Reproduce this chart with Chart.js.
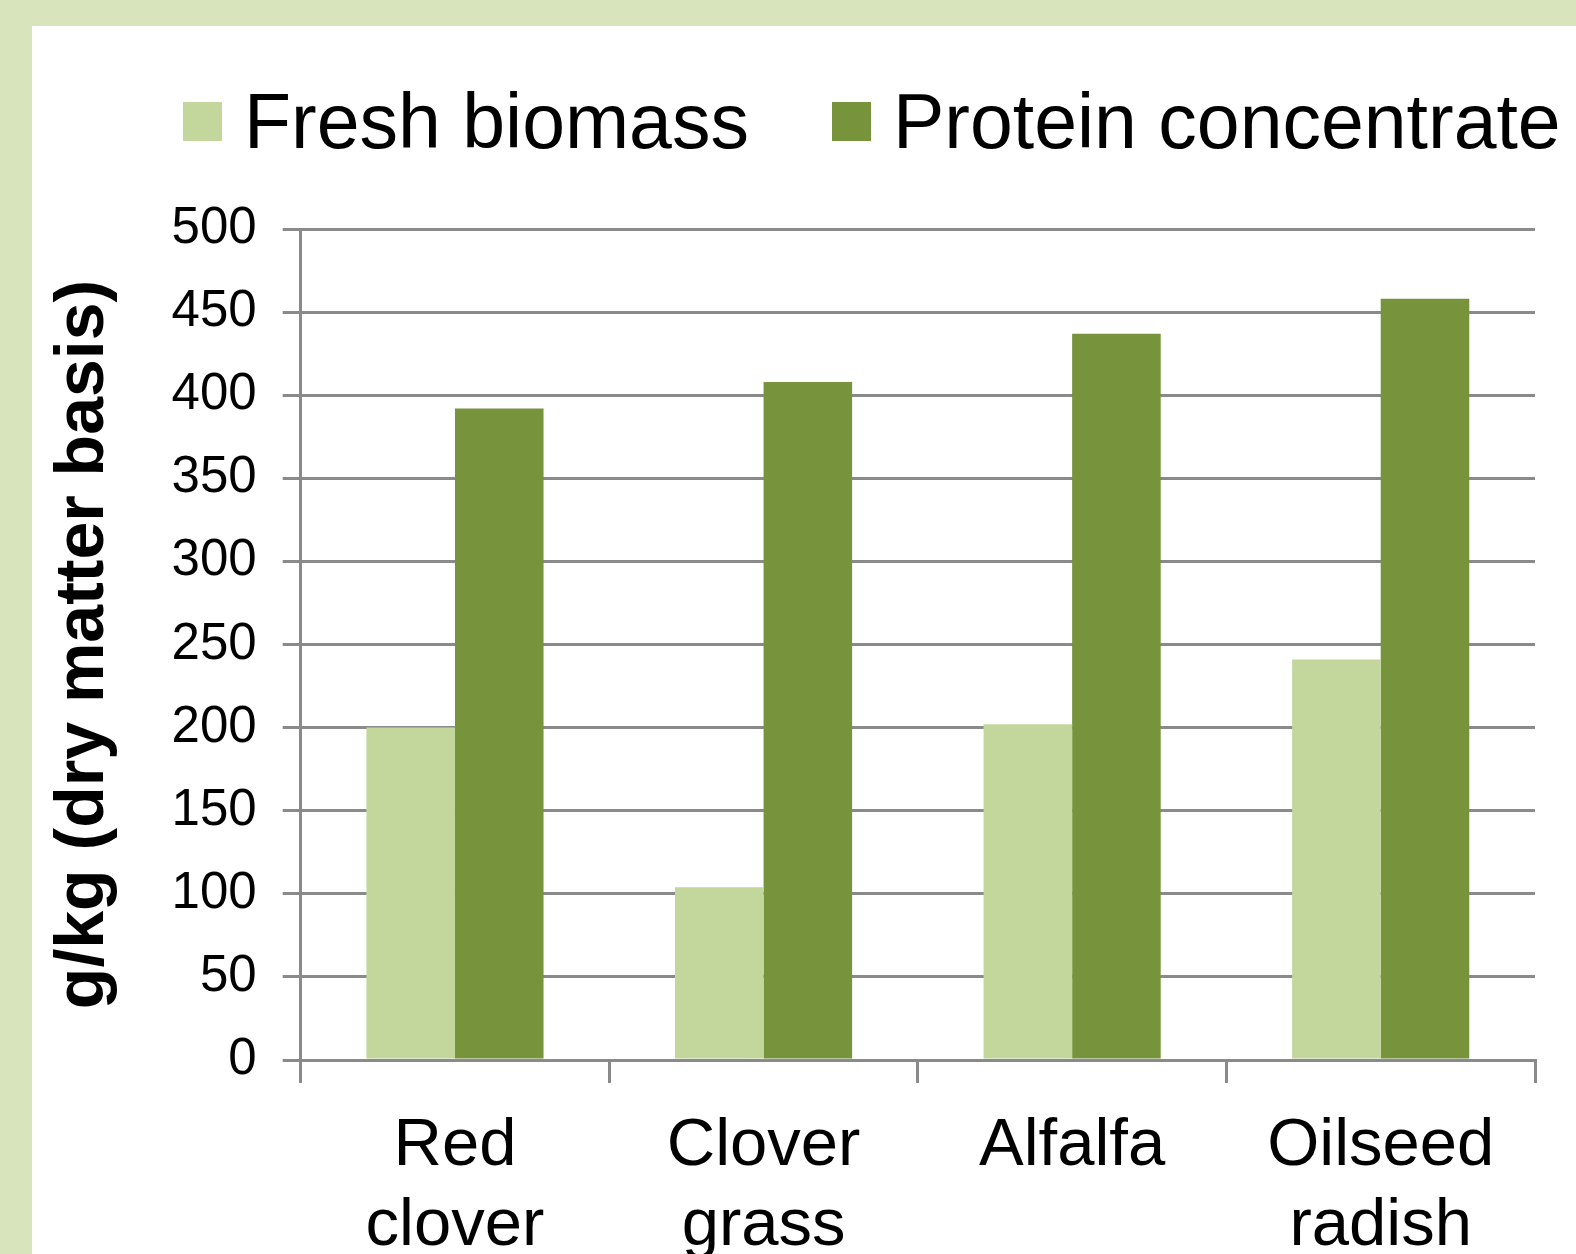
<!DOCTYPE html>
<html>
<head>
<meta charset="utf-8">
<title>Protein content, fresh biomass vs protein concentrate</title>
<script src="https://cdn.jsdelivr.net/npm/chart.js@4.4.1/dist/chart.umd.min.js"></script>
<style>
    html, body {
        margin: 0;
        padding: 0;
        width: 1576px;
        height: 1254px;
        overflow: hidden;
        background: #d8e4bc;
        font-family: "Liberation Sans", Arial, sans-serif;
    }
    .panel {
        position: absolute;
        left: 32px;
        top: 26px;
        width: 1544px;
        height: 1228px;
        background: #fff;
        overflow: hidden;
    }
    .panel canvas {
        position: absolute;
        left: 0;
        top: 0;
    }
    .legend {
        position: absolute;
        left: 151px;
        top: 57px;
        height: 77px;
        display: flex;
        align-items: center;
        gap: 83px;
        white-space: nowrap;
    }
    .legend-item {
        display: flex;
        align-items: center;
    }
    .legend-box {
        width: 39px;
        height: 39px;
        margin-right: 22px;
    }
    .legend-text {
        font-size: 77px;
        line-height: 77px;
        color: #000;
    }
</style>
</head>
<body>
<div class="panel">
    <div class="legend" id="legend"></div>
    <canvas id="chart" width="1544" height="1300"></canvas>
</div>
<script>
    // Chart data
    const categories = [['Red', 'clover'], ['Clover', 'grass'], ['Alfalfa'], ['Oilseed', 'radish']];
    const seriesNames = ['Fresh biomass', 'Protein concentrate'];
    const freshBiomass = [200, 104, 202, 241];
    const proteinConcentrate = [392, 408, 437, 458];
    const yTicks = [0, 50, 100, 150, 200, 250, 300, 350, 400, 450, 500];
    const yTitle = 'g/kg (dry matter basis)';

    const FONT = '"Liberation Sans", Arial, sans-serif';
    const GRID = '#8a8a8a';

    const chart = new Chart(document.getElementById('chart'), {
        type: 'bar',
        data: {
            labels: categories,
            datasets: [
                { label: seriesNames[0], data: freshBiomass, backgroundColor: '#c3d69b' },
                { label: seriesNames[1], data: proteinConcentrate, backgroundColor: '#77933c' }
            ]
        },
        options: {
            responsive: false,
            animation: false,
            events: [],
            categoryPercentage: 0.574,
            barPercentage: 1,
            layout: {
                padding: { left: 11, top: 203, right: 41, bottom: 35 }
            },
            plugins: {
                legend: { display: false },
                tooltip: { enabled: false }
            },
            scales: {
                x: {
                    grid: {
                        offset: true,
                        drawOnChartArea: false,
                        drawTicks: true,
                        tickLength: 23,
                        color: GRID,
                        lineWidth: 3
                    },
                    border: { color: GRID, width: 3 },
                    ticks: {
                        color: '#000',
                        padding: 24,
                        maxRotation: 0,
                        autoSkip: false,
                        font: { family: FONT, size: 67, lineHeight: 1.194 }
                    }
                },
                y: {
                    min: yTicks[0],
                    max: yTicks[yTicks.length - 1],
                    afterBuildTicks: (scale) => {
                        scale.ticks = yTicks.map(v => ({ value: v }));
                    },
                    grid: {
                        color: GRID,
                        lineWidth: 3,
                        tickLength: 18
                    },
                    border: { color: GRID, width: 3 },
                    ticks: {
                        color: '#000',
                        padding: 26,
                        font: { family: FONT, size: 51 }
                    },
                    title: {
                        display: true,
                        text: yTitle,
                        color: '#000',
                        padding: { top: 0, bottom: 21 },
                        font: { family: FONT, size: 68, weight: 'bold', lineHeight: 1.2 }
                    }
                }
            }
        }
    });

    // HTML legend built from the datasets
    const legend = document.getElementById('legend');
    chart.data.datasets.forEach((ds) => {
        const item = document.createElement('div');
        item.className = 'legend-item';
        const box = document.createElement('span');
        box.className = 'legend-box';
        box.style.background = ds.backgroundColor;
        const text = document.createElement('span');
        text.className = 'legend-text';
        text.textContent = ds.label;
        item.appendChild(box);
        item.appendChild(text);
        legend.appendChild(item);
    });
</script>
</body>
</html>
